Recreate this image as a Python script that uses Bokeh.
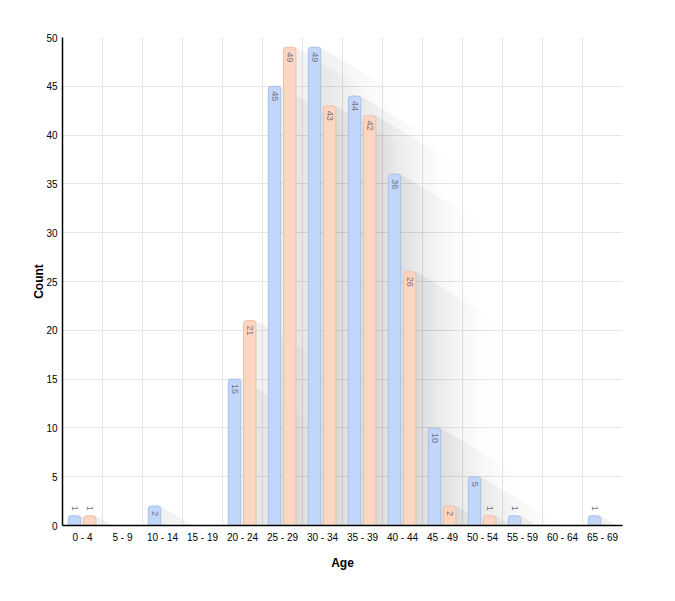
import math

from bokeh.core.properties import value
from bokeh.embed import file_html
from bokeh.models import ColumnDataSource, FixedTicker, Range1d
from bokeh.plotting import figure
from bokeh.resources import INLINE

# data
ages = ["0 - 4", "5 - 9", "10 - 14", "15 - 19", "20 - 24", "25 - 29", "30 - 34",
        "35 - 39", "40 - 44", "45 - 49", "50 - 54", "55 - 59", "60 - 64", "65 - 69"]
count_a = [1, 0, 2, 0, 15, 45, 49, 44, 36, 10, 5, 1, 0, 1]
count_b = [1, 0, 0, 0, 21, 49, 43, 42, 26, 2, 1, 0, 0, 0]
y_ticks = [0, 5, 10, 15, 20, 25, 30, 35, 40, 45, 50]

FONT = "Liberation Sans"
BLUE, BLUE_LINE = "#c2d6fa", "#a8c0ec"
PEACH, PEACH_LINE = "#fdd5c0", "#eebfa8"

n = len(ages)
frame_w, frame_h = 560, 488
px_x = frame_w / n          # pixels per category
px_y = frame_h / y_ticks[-1]  # pixels per count

p = figure(width=659, height=585, output_backend="svg", toolbar_location=None,
           x_range=Range1d(0, n), y_range=Range1d(0, y_ticks[-1]),
           min_border_left=62, min_border_right=37, min_border_top=37, min_border_bottom=60)
p.outline_line_color = None
p.background_fill_color = "white"

bar_w = 0.31
series = [(count_a, -0.2, BLUE, BLUE_LINE), (count_b, 0.18, PEACH, PEACH_LINE)]

# long soft shadows, drawn in thin layers so they fade out
layers = 14
for k in range(1, layers + 1):
    dist = 75 * k / layers
    sx = dist / px_x
    sy = 0.6 * dist / px_y
    xs, ys = [], []
    for vals, off, _, _ in series:
        for i, v in enumerate(vals):
            if v <= 0:
                continue
            x0 = i + 0.5 + off - bar_w / 2
            x1 = x0 + bar_w
            xs.append([x0, x1, x1 + sx, x1 + sx, x0 + sx, x0])
            ys.append([v, v, v - sy, -sy, -sy, 0])
    p.patches(xs, ys, fill_color="#8e8c9c", fill_alpha=0.011, line_color=None)

for vals, off, fill, line in series:
    xs = [i + 0.5 + off for i, v in enumerate(vals) if v > 0]
    tops = [v for v in vals if v > 0]
    src = ColumnDataSource(dict(x=xs, top=tops))
    p.vbar(x="x", top="top", width=bar_w, source=src, fill_color=fill,
           line_color=line, line_width=1, border_radius=(3, 3, 0, 0))

    inside = ColumnDataSource(dict(x=[x for x, t in zip(xs, tops) if t >= 2],
                                   y=[t for t in tops if t >= 2],
                                   t=[str(t) for t in tops if t >= 2]))
    outside = ColumnDataSource(dict(x=[x for x, t in zip(xs, tops) if t < 2],
                                    y=[t for t in tops if t < 2],
                                    t=[str(t) for t in tops if t < 2]))
    p.text(x="x", y="y", text="t", source=inside, angle=-math.pi / 2,
           text_align="left", text_baseline="middle", y_offset=5,
           text_font=value(FONT), text_font_size="9px", text_color="#72727f")
    p.text(x="x", y="y", text="t", source=outside, angle=-math.pi / 2,
           text_align="right", text_baseline="middle", y_offset=-5,
           text_font=value(FONT), text_font_size="9px", text_color="#72727f")

# axes
p.xaxis.ticker = FixedTicker(ticks=[i + 0.5 for i in range(n)])
p.xaxis.major_label_overrides = {i + 0.5: a for i, a in enumerate(ages)}
p.yaxis.ticker = FixedTicker(ticks=y_ticks)
p.xgrid.ticker = FixedTicker(ticks=list(range(n + 1)))
p.grid.grid_line_color = "#e6e6e6"
p.grid.grid_line_width = 1

p.xaxis.axis_label = "Age"
p.yaxis.axis_label = "Count"
p.axis.axis_line_color = "black"
p.axis.axis_line_width = 1.5
p.axis.major_tick_line_color = None
p.axis.minor_tick_line_color = None
p.axis.major_tick_out = 0
p.axis.major_tick_in = 0
p.axis.major_label_text_font = FONT
p.axis.major_label_text_font_size = "10px"
p.axis.major_label_text_color = "black"
p.axis.axis_label_text_font = FONT
p.axis.axis_label_text_font_size = "12px"
p.axis.axis_label_text_font_style = "bold"
p.axis.axis_label_text_color = "black"
p.xaxis.major_label_standoff = 6
p.xaxis.axis_label_standoff = 10
p.yaxis.major_label_standoff = 5
p.yaxis.axis_label_standoff = -3

open("out.html", "w").write(file_html(p, INLINE))
